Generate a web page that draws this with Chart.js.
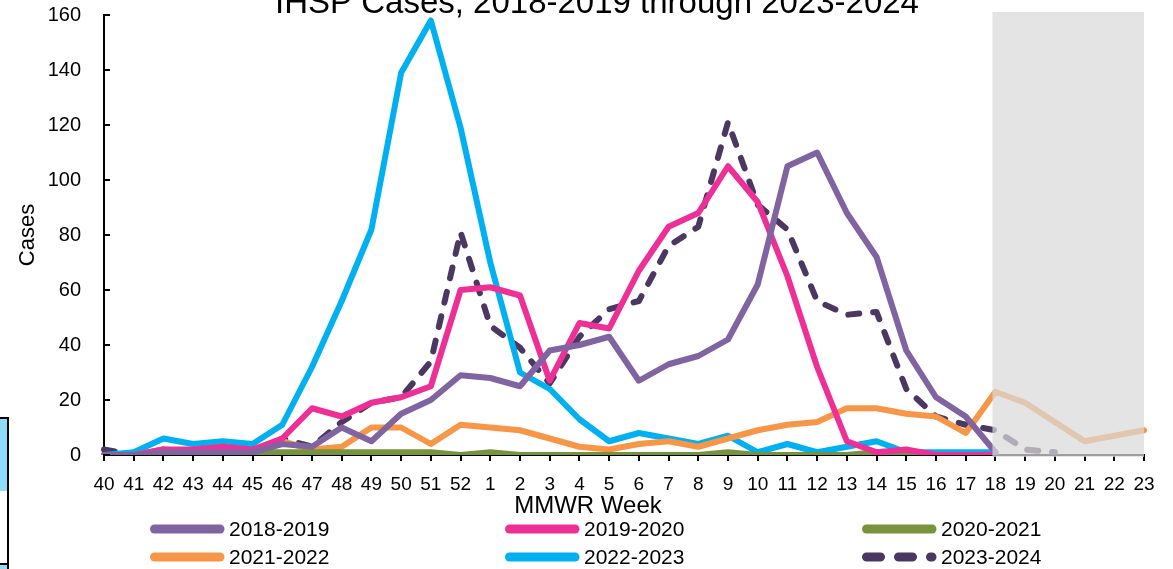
<!DOCTYPE html>
<html>
<head>
<meta charset="utf-8">
<script src="https://cdn.jsdelivr.net/npm/chart.js@4.4.1/dist/chart.umd.min.js"></script>
<style>
  body { margin: 0; background: #fff; }
  #wrap { position: relative; width: 1173px; height: 569px; }
  .cell { position: absolute; left: 0; width: 7px; border-right: 2px solid #000; }
</style>
</head>
<body>
<div id="wrap">
  <canvas id="ihspChart"></canvas>
  <div class="cell" style="top:417px;height:72px;background:#8ddcfe;border-top:2px solid #000;border-bottom:2px solid #000;"></div>
  <div class="cell" style="top:491px;height:72px;background:#fff;border-bottom:2px solid #000;"></div>
  <div class="cell" style="top:565px;height:4px;background:#8ddcfe;"></div>
</div>
<script>
// MMWR weeks, 40 through 52 and then 1 through 23
const weeks = ['40','41','42','43','44','45','46','47','48','49','50','51','52',
  '1','2','3','4','5','6','7','8','9','10','11','12','13','14','15','16','17','18',
  '19','20','21','22','23'];

const seasons = ['2018-2019', '2019-2020', '2020-2021', '2021-2022', '2022-2023', '2023-2024'];

const cases1819 = [0,0,1,1,1,1,4,3,10,5,15,20,29, 28,25,38,40,43,27,33,36,42,62,105,110,88,72,38,21,14,1];
const cases1920 = [0,0,2,2,3,2,6,17,14,19,21,25,60, 61,58,27,48,46,67,83,88,105,92,65,32,5,1,2,0,0,0];
const cases2021 = [0,0,0,0,0,1,1,1,1,1,1,1,0, 1,0,0,0,0,0,0,0,1,0,0,0,0,1,0,0,0,0];
const cases2122 = [0,0,2,1,2,1,5,2,3,10,10,4,11, 10,9,6,3,2,4,5,3,6,9,11,12,17,17,15,14,8,23,19,12,5,7,9];
const cases2223 = [0,1,6,4,5,4,11,32,56,82,139,158,119, 70,30,24,13,5,8,6,4,7,1,4,1,3,5,1,1,1,1];
const cases2324 = [2,0,2,0,0,1,6,3,12,19,21,34,81, 47,39,26,43,53,56,76,83,121,91,82,56,51,52,24,14,11,9,2,1];

const seriesValues = [cases1819, cases1920, cases2021, cases2122, cases2223, cases2324];
const seriesColors = ['#8064a2', '#ee3096', '#77933c', '#f79646', '#00b0f0', '#4b3862'];

const yTicks = [0, 20, 40, 60, 80, 100, 120, 140, 160];
const greyFromWeek = '18';
const chartTitle = 'IHSP Cases, 2018-2019 through 2023-2024';
const xTitle = 'MMWR Week';

const FONT = "'Liberation Sans', Arial, sans-serif";

const datasets = seasons.map((name, i) => ({
  label: name,
  data: seriesValues[i],
  borderColor: seriesColors[i],
  backgroundColor: seriesColors[i],
  borderWidth: 6,
  borderDash: name === '2023-2024' ? [11, 14] : [],
  borderCapStyle: 'round',
  borderJoinStyle: 'round',
  pointRadius: 0,
  tension: 0,
  spanGaps: false
}));

// grey box over the future weeks, y ticks, titles and legend
const extras = {
  id: 'extras',
  afterDraw(chart) {
    const ctx = chart.ctx;
    const xs = chart.scales.x, ys = chart.scales.y;
    const area = chart.chartArea;
    ctx.save();

    // inward tick marks on the y axis
    ctx.strokeStyle = '#000';
    ctx.lineWidth = 2;
    yTicks.forEach(v => {
      const py = ys.getPixelForValue(v);
      ctx.beginPath();
      ctx.moveTo(area.left - 1, py);
      ctx.lineTo(area.left + 6, py);
      ctx.stroke();
    });

    // shaded weeks
    const gx = xs.getPixelForValue(weeks.indexOf(greyFromWeek)) - 3;
    ctx.fillStyle = 'rgba(218,218,218,0.72)';
    ctx.fillRect(gx, area.top - 3, area.right - gx, area.bottom + 2 - (area.top - 3));

    // title (cut off at the top as in the source)
    ctx.fillStyle = '#000';
    ctx.font = '33px ' + FONT;
    ctx.textAlign = 'center';
    ctx.textBaseline = 'alphabetic';
    ctx.fillText(chartTitle, 597, 13);

    // x axis title, sits left of the plot centre in the source
    ctx.font = '24px ' + FONT;
    ctx.textBaseline = 'middle';
    ctx.fillText(xTitle, 588, 506);

    // legend, three columns
    const cols = [150, 505, 862];
    const rows = [529, 557];
    ctx.font = '21px ' + FONT;
    ctx.textAlign = 'left';
    chart.data.datasets.forEach((ds, i) => {
      const x0 = cols[i % 3], y0 = rows[Math.floor(i / 3)];
      ctx.strokeStyle = ds.borderColor;
      ctx.lineWidth = 9;
      ctx.lineCap = 'round';
      ctx.setLineDash(ds.borderDash.length ? [14, 18] : []);
      ctx.beginPath();
      ctx.moveTo(x0 + 4.5, y0);
      ctx.lineTo(x0 + 70, y0);
      ctx.stroke();
      ctx.setLineDash([]);
      ctx.fillStyle = '#000';
      ctx.fillText(ds.label, x0 + 79, y0 + 1);
    });
    ctx.restore();
  }
};

new Chart(document.getElementById('ihspChart'), {
  type: 'line',
  data: { labels: weeks, datasets: datasets },
  options: {
    responsive: true,
    maintainAspectRatio: false,
    animation: false,
    layout: { padding: { left: 0, right: 29, top: 15, bottom: 50 } },
    plugins: {
      legend: { display: false },
      tooltip: { enabled: false }
    },
    scales: {
      x: {
        offset: false,
        afterFit: (scale) => { scale.height = 64; },
        grid: { drawOnChartArea: false, drawTicks: true, tickLength: 6, color: '#000', lineWidth: 2 },
        border: { color: '#000', width: 2 },
        ticks: { color: '#000', font: { family: FONT, size: 19 }, autoSkip: false, maxRotation: 0, padding: 12 },
        title: { display: false }
      },
      y: {
        min: 0,
        max: 160,
        afterFit: (scale) => { scale.width = 104; scale.paddingTop = 0; scale.paddingBottom = 0; },
        afterBuildTicks: (scale) => { scale.ticks = yTicks.map(v => ({ value: v })); },
        grid: { drawOnChartArea: false, drawTicks: false },
        border: { color: '#000', width: 2 },
        ticks: { color: '#000', font: { family: FONT, size: 20 }, padding: 23 },
        title: { display: true, text: 'Cases', color: '#000', font: { family: FONT, size: 22 }, padding: { top: 15, bottom: 0 } }
      }
    }
  },
  plugins: [extras]
});
</script>
</body>
</html>
